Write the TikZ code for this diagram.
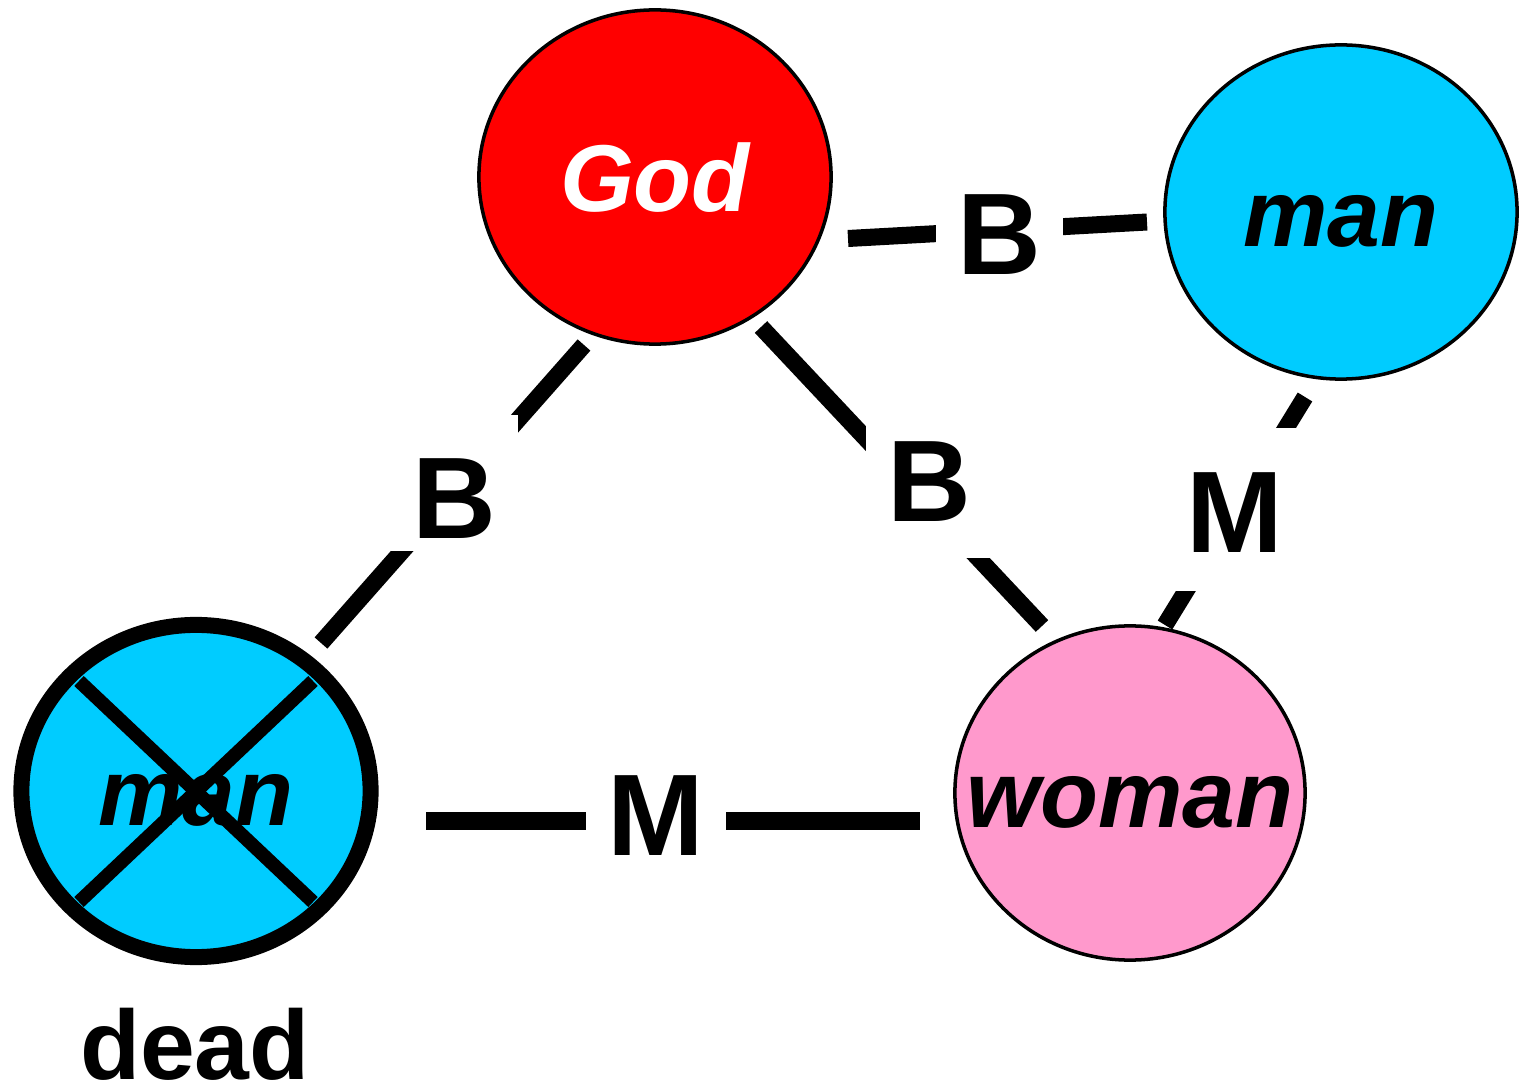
\documentclass[tikz,border=0pt]{standalone}
\usepackage{fontspec}
\setmainfont{Liberation Sans}
\usetikzlibrary{shapes.geometric}
\definecolor{godred}{HTML}{FF0000}
\definecolor{mancyan}{HTML}{00CCFF}
\definecolor{womanpink}{HTML}{FF99CC}
\tikzset{
  person/.style={ellipse, draw=black, line width=1pt, minimum width=3.52cm, minimum height=3.34cm, inner sep=0pt},
  persontext/.style={inner sep=0pt, font=\fontsize{27}{27}\selectfont\bfseries\itshape, text height=0.69cm, text depth=0pt},
  link/.style={line width=4.84pt, line cap=butt},
  tag/.style={fill=white, inner xsep=0.22cm, inner ysep=0pt, font=\fontsize{33}{33}\selectfont\bfseries, anchor=base},
  crossline/.style={line width=3.9pt, line cap=butt},
}
\begin{document}
\begin{tikzpicture}[x=0.01cm,y=-0.01cm]
\useasboundingbox (0,0) rectangle (1523,1091);
% persons
\node[person, fill=godred] (god) at (655,177) {};
\node[persontext, text=white] (godtxt) at (god.center) {God};
\node[person, fill=mancyan] (man) at (1341,212) {};
\node[persontext] (mantxt) at (man.center) {man};
\node[person, fill=womanpink, minimum width=3.50cm] (woman) at (1130,793) {};
\node[persontext] (womantxt) at (woman.center) {woman};
\node[person, fill=mancyan, line width=4.55pt, minimum width=3.49cm, minimum height=3.32cm] (dman) at (196,791) {};
\node[persontext] (dmantxt) at (dman.center) {man};
\draw[crossline] ([shift={(-117,-110)}]dman.center) -- ([shift={(117,111)}]dman.center);
\draw[crossline] ([shift={(117,-110)}]dman.center) -- ([shift={(-117,111)}]dman.center);
\node[inner sep=0pt, font=\fontsize{28}{28}\selectfont\bfseries, anchor=base] (deadlbl) at (195,1079) {dead};
% connector end points
\coordinate (gd1) at (584,345); \coordinate (gd2) at (321,643);
\coordinate (gm1) at (848,238.5); \coordinate (gm2) at (1147,222);
\coordinate (gw1) at (761,327); \coordinate (gw2) at (1042,626);
\coordinate (mw1) at (1305,397); \coordinate (mw2) at (1165,625);
\coordinate (dw1) at (426,821); \coordinate (dw2) at (920,821);
% connectors
\draw[link] (gd1) -- (gd2);
\draw[link] (gm1) -- (gm2);
\draw[link] (gw1) -- (gw2);
\draw[link] (mw1) -- (mw2);
\draw[link] (dw1) -- (dw2);
% labels
\node[tag, text height=1.23cm, text depth=0.13cm] (bgd) at (454.5,538) {B};
\node[tag, text height=1.0cm, text depth=0.13cm] (bgm) at (999.5,275) {B};
\node[tag, text height=1.1cm, text depth=0.36cm] (bgw) at (929.5,522) {B};
\node[tag, text height=1.25cm, text depth=0.38cm] (mmw) at (1235,553) {M};
\node[tag, text height=1.0cm, text depth=0.13cm] (mdw) at (656,856) {M};
\end{tikzpicture}
\end{document}
